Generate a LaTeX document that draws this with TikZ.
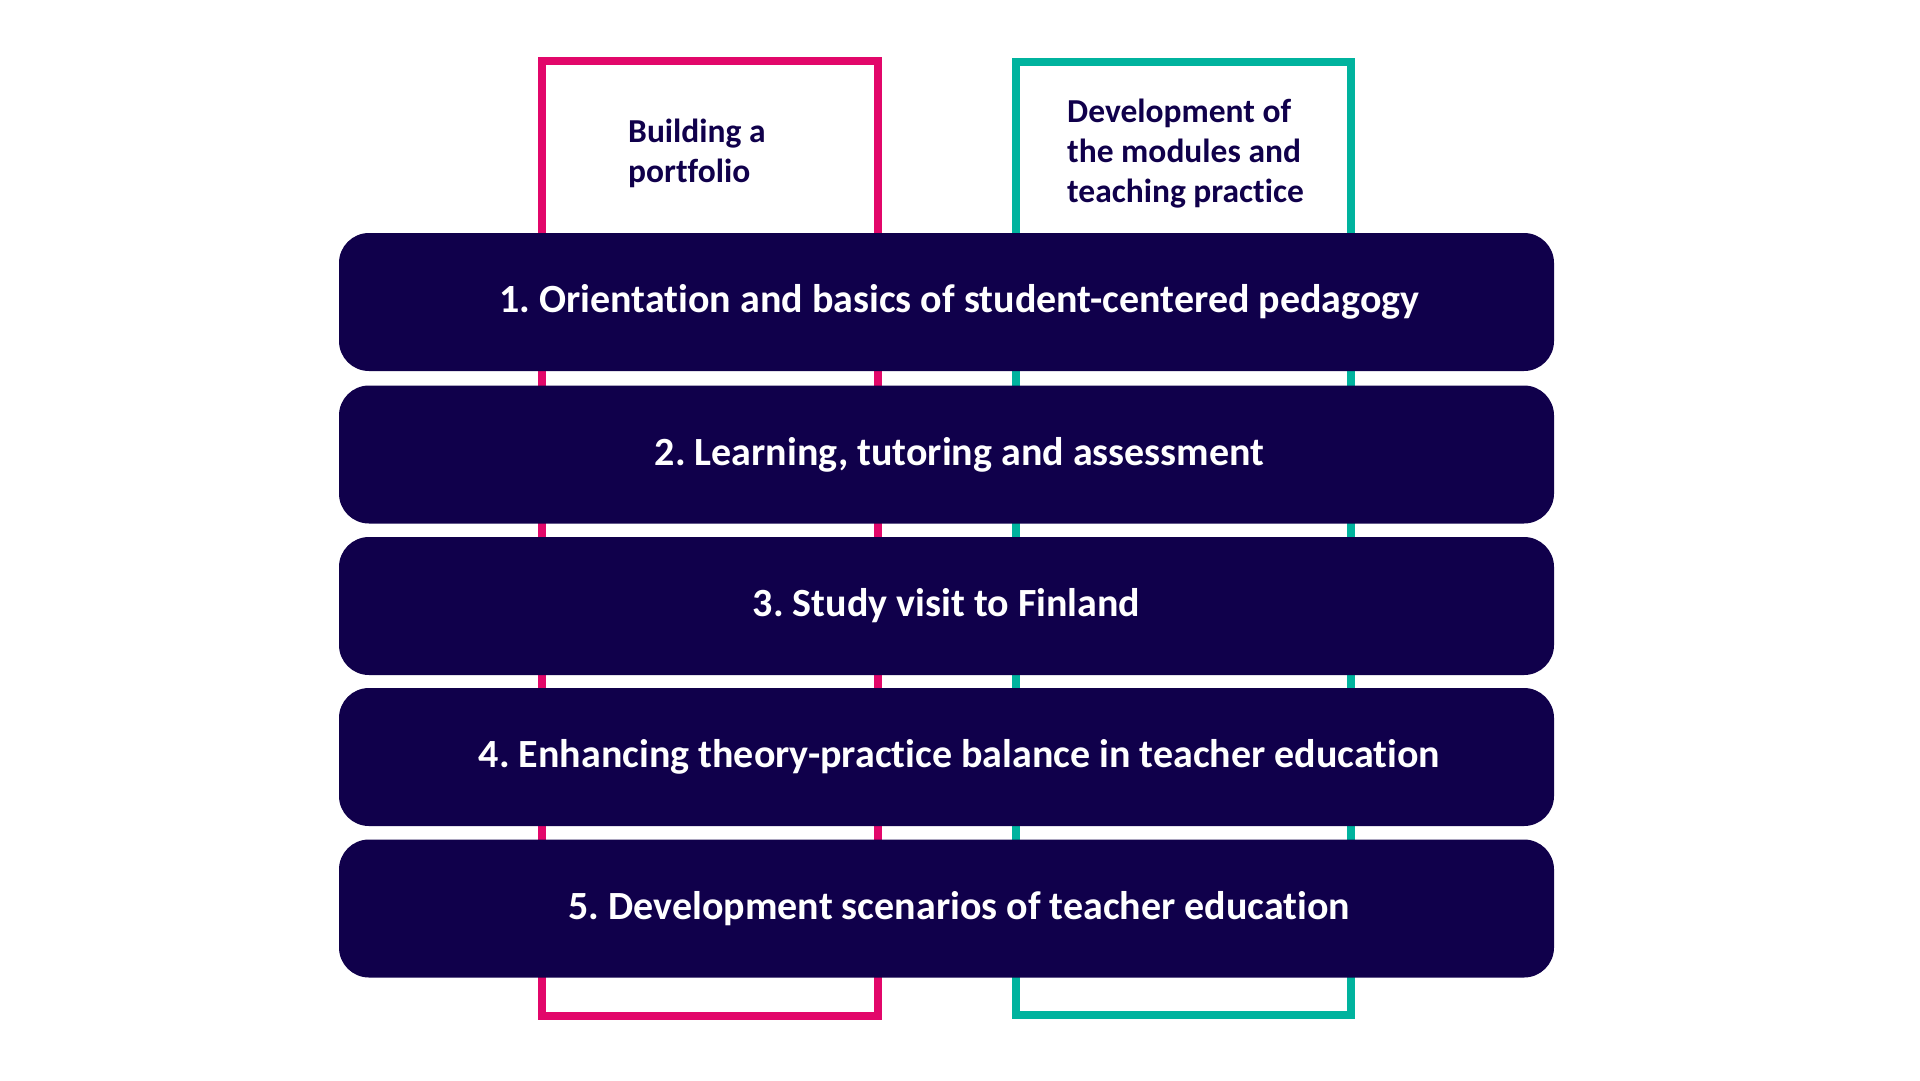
\documentclass[tikz,border=0pt]{standalone}
\usepackage{fontspec}
\setmainfont[Ligatures=NoCommon]{Carlito}
\frenchspacing
\definecolor{navy}{HTML}{10004B}
\definecolor{magentapink}{HTML}{E2076A}
\definecolor{tealc}{HTML}{00B39E}
\begin{document}
\begin{tikzpicture}[x=1pt,y=-1pt,
  frame/.style={line width=8pt, inner sep=0pt, outer sep=0pt, fill=none},
  rowbox/.style={fill=navy, rounded corners=30pt, minimum width=1215pt, minimum height=138pt,
    inner sep=0pt, text=white, font=\fontsize{40}{44}\selectfont\bfseries},
  headtext/.style={anchor=base west, inner sep=0pt, text=navy, align=flush left,
    font=\fontsize{33.5}{40}\selectfont\bfseries}]
\useasboundingbox (0,0) rectangle (1920,1080);
% column frames
\node[frame, draw=magentapink, minimum width=336pt, minimum height=955pt] (pbox) at (710,538.5) {};
\node[frame, draw=tealc, minimum width=335pt, minimum height=953pt] (tbox) at (1183.5,538.5) {};
% header texts
\node[headtext, text width=250pt] (ptext) at (628,142) {Building a\\portfolio};
\node[headtext, text width=280pt] (ttext) at (1067,122) {Development of\\the modules and\\teaching practice};
% rows
\node[rowbox] (r1) at (946.5,302) {\hspace*{26pt}1. Orientation and basics of student-centered pedagogy};
\node[rowbox] (r2) at (946.5,454.5) {\hspace*{26pt}2. Learning, tutoring and assessment};
\node[rowbox] (r3) at (946.5,606) {3. Study visit to Finland};
\node[rowbox] (r4) at (946.5,757) {\hspace*{26pt}4. Enhancing theory-practice balance in teacher education};
\node[rowbox] (r5) at (946.5,908.5) {\hspace*{26pt}5. Development scenarios of teacher education};
\end{tikzpicture}
\end{document}
